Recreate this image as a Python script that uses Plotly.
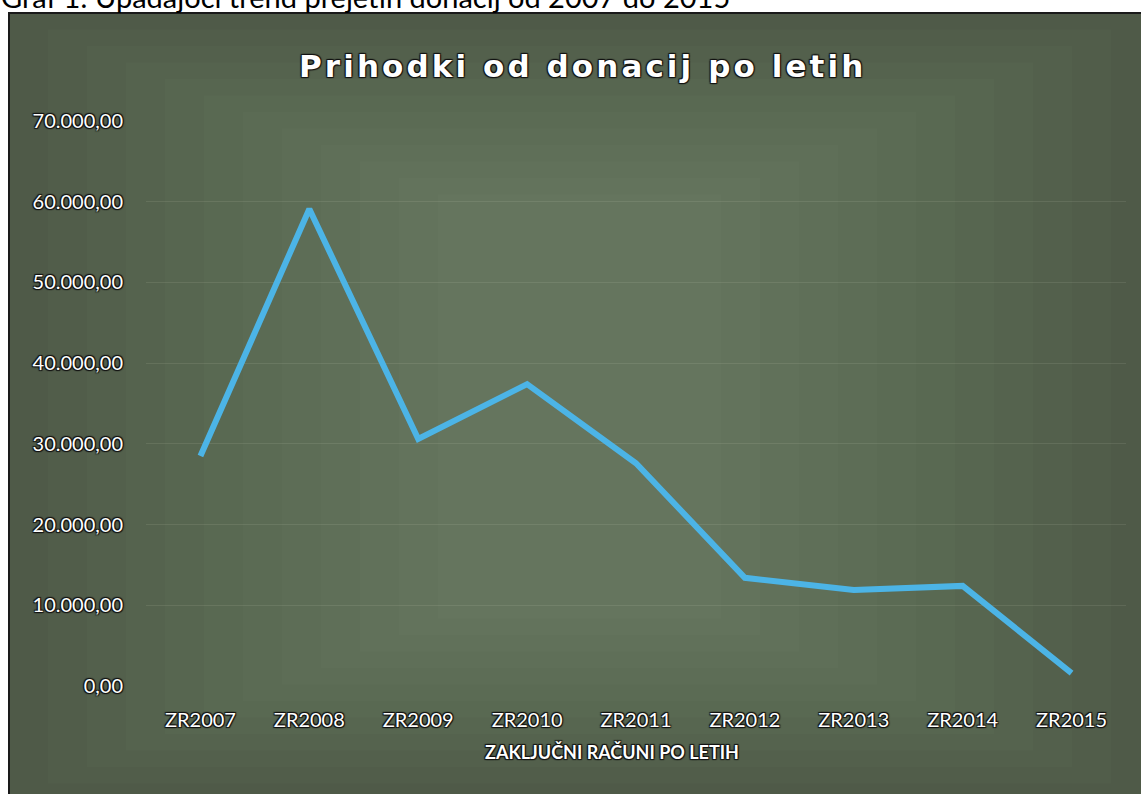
import plotly.graph_objects as go

categories = ["ZR2007", "ZR2008", "ZR2009", "ZR2010", "ZR2011", "ZR2012", "ZR2013", "ZR2014", "ZR2015"]
values = [28500, 59100, 30600, 37400, 27600, 13400, 11900, 12400, 1600]
y_ticks = [0, 10000, 20000, 30000, 40000, 50000, 60000, 70000]

W, H = 1141, 794
L, R, T, B = 146, 15, 121, 108
pw, ph = W - L - R, H - T - B

def px(x):
    return (x - L) / pw

def py(y):
    return (H - B - y) / ph

shadow = "1px 1px 1px #111, -1px -1px 1px #111, 1px -1px 1px #111, -1px 1px 1px #111"

fig = go.Figure()
fig.add_trace(go.Scatter(
    x=categories, y=values, mode="lines",
    line=dict(color="#4cb4e6", width=6), hoverinfo="skip", showlegend=False,
))

shapes = [dict(type="rect", xref="paper", yref="paper", x0=px(9), x1=px(1150), y0=py(800), y1=py(13),
               fillcolor="#4f5a48", line=dict(color="#1a1a1a", width=2), layer="below")]
for i in range(1, 12):
    inset = i * 30
    shapes.append(dict(type="rect", xref="paper", yref="paper",
                       x0=px(9 + inset * 1.3), x1=px(1150 - inset * 1.3), y0=py(800 - inset * 0.55), y1=py(13 + inset * 0.55),
                       fillcolor="rgba(200,230,190,0.02)", line=dict(width=0), layer="below"))

title_text = "\u200a".join("Prihodki od donacij po letih")

fig.update_layout(
    width=W, height=H,
    margin=dict(l=L, r=R, t=T, b=B),
    paper_bgcolor="white", plot_bgcolor="rgba(0,0,0,0)",
    separators=",.",
    shapes=shapes,
    font=dict(family="Lato", color="white"),
    xaxis=dict(
        type="category", range=[-0.5, 8.5], showgrid=False, zeroline=False, showline=False,
        ticks="", ticklabelstandoff=20,
        tickfont=dict(size=20, color="white", shadow=shadow),
    ),
    yaxis=dict(
        range=[0, 70000], tickvals=y_ticks, tickformat=",.2f", showgrid=True,
        gridcolor="rgba(255,255,230,0.09)", gridwidth=1, zeroline=False, showline=False,
        ticks="", ticklabelstandoff=22,
        tickfont=dict(size=20, color="white", shadow=shadow),
    ),
    annotations=[
        dict(text="<b>" + title_text + "</b>", xref="paper", yref="paper",
             x=px(581), y=py(66), xanchor="center", yanchor="middle", showarrow=False,
             font=dict(family="DejaVu Sans", size=31, color="white", shadow=shadow)),
        dict(text="<b>ZAKLJUČNI RAČUNI PO LETIH</b>", xref="paper", yref="paper",
             x=px(612), y=py(752), xanchor="center", yanchor="middle", showarrow=False,
             font=dict(family="Lato", size=18, color="white", shadow=shadow)),
        dict(text="Graf 1: Upadajoči trend prejetih donacij od 2007 do 2015", xref="paper", yref="paper",
             x=px(-1), y=py(-4), xanchor="left", yanchor="middle", showarrow=False,
             font=dict(family="Lato", size=29, color="black")),
    ],
)

fig.write_html("out.html", config={"displayModeBar": False},
               post_script="document.body.style.margin='0';document.body.style.overflow='hidden';")
